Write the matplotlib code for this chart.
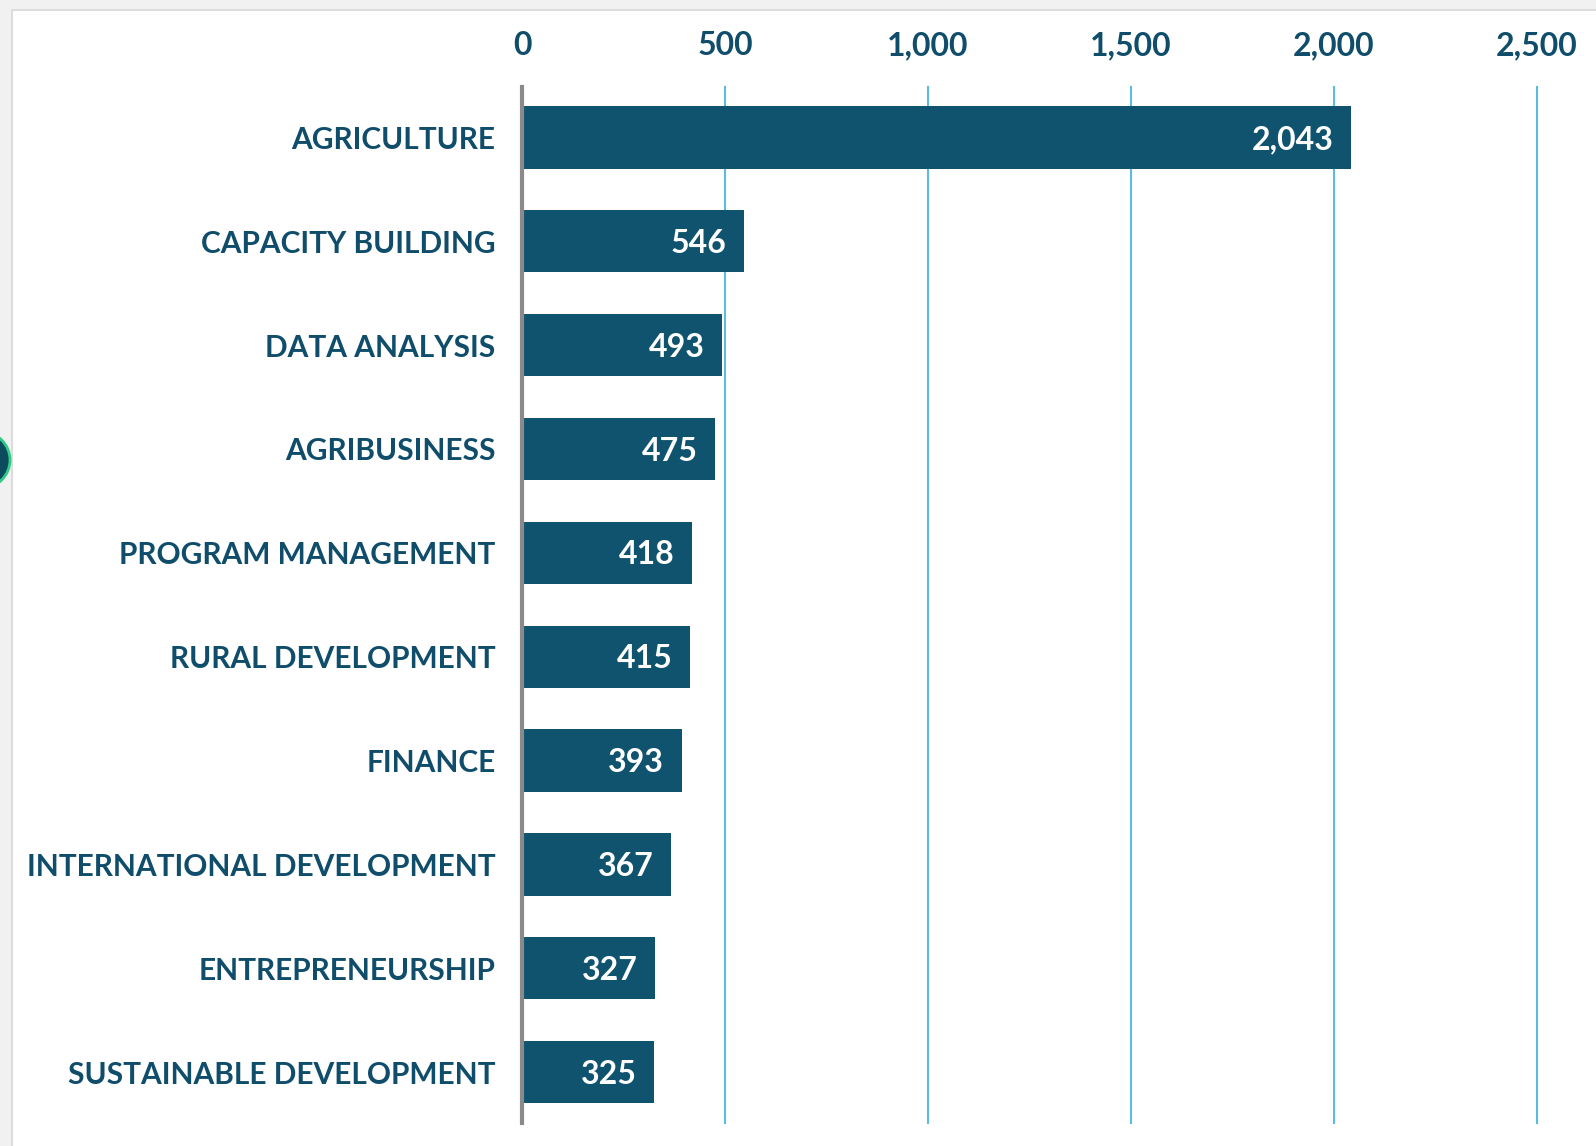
import matplotlib.pyplot as plt
from matplotlib.patches import Circle, Rectangle

categories = ["AGRICULTURE", "CAPACITY BUILDING", "DATA ANALYSIS", "AGRIBUSINESS",
              "PROGRAM MANAGEMENT", "RURAL DEVELOPMENT", "FINANCE",
              "INTERNATIONAL DEVELOPMENT", "ENTREPRENEURSHIP", "SUSTAINABLE DEVELOPMENT"]
counts = [2043, 546, 493, 475, 418, 415, 393, 367, 327, 325]
ticks = [0, 500, 1000, 1500, 2000, 2500]

BAR = "#10536f"
TEXT = "#0f4d6b"
GRID = "#5bbbe3"
FONT = ["Lato", "DejaVu Sans"]

fig = plt.figure(figsize=(15.96, 11.46), dpi=100)
fig.patch.set_facecolor("#f1f1f1")
# white panel with light border (behind the axes)
panel = Rectangle((0.12, -0.1), 16, 11.46 - 0.10 + 0.1, transform=fig.dpi_scale_trans,
                  facecolor="white", edgecolor="#dcdcdc", linewidth=1.5, zorder=-10)
fig.add_artist(panel)
# partial circle on the left edge
fig.add_artist(Circle((-0.18, 11.46 - 4.60), 0.28, transform=fig.dpi_scale_trans,
                      facecolor="#0d4a5e", edgecolor="#2ecc85", linewidth=2, zorder=-5))

ax = fig.add_axes([522 / 1596, 1 - 1123 / 1146, (1537 - 522) / 1596, (1123 - 86.5) / 1146])
ax.set_facecolor("none")
ax.set_zorder(2)
y = list(range(len(categories)))
ax.barh(y, counts, height=0.6, color=BAR, zorder=3)
for yi, v in zip(y, counts):
    ax.text(v - 43, yi + 0.02, f"{v:,}", ha="right", va="center", color="white",
            fontsize=23, fontweight="bold", family=FONT, zorder=4)

ax.set_xlim(0, 2500)
ax.set_ylim(len(categories) - 0.51, -0.49)
ax.set_xticks(ticks)
ax.set_xticklabels([f"{t:,}" for t in ticks])
ax.xaxis.tick_top()
ax.set_yticks(y)
ax.set_yticklabels(categories)
for lab in ax.get_xticklabels():
    lab.set_fontsize(23)
for lab in ax.get_yticklabels():
    lab.set_fontsize(21.5)
for lab in ax.get_xticklabels() + ax.get_yticklabels():
    lab.set_family(FONT)
    lab.set_fontweight("bold")
    lab.set_color(TEXT)
ax.tick_params(axis="x", length=0, pad=19)
ax.tick_params(axis="y", length=0, pad=19)
ax.grid(axis="x", color=GRID, linewidth=1.5, zorder=0)
for line in ax.get_xgridlines():
    line.set_clip_on(False)
for s in ["top", "right", "bottom"]:
    ax.spines[s].set_visible(False)
ax.spines["left"].set_color("#8a8a8a")
ax.spines["left"].set_linewidth(3)
ax.spines["left"].set_zorder(5)

fig.savefig("out.png", dpi=100, facecolor=fig.get_facecolor())
